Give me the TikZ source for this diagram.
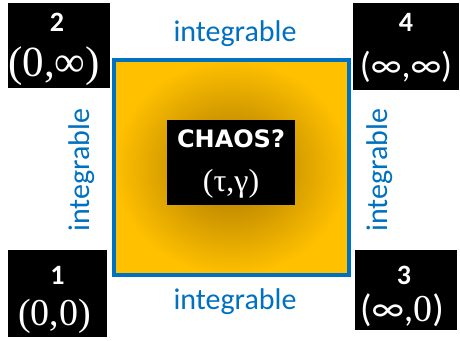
\documentclass[tikz,border=0pt]{standalone}
\usepackage{fontspec}
\setmainfont{Carlito}
\newfontfamily\serifnum{Liberation Serif}
\newfontfamily\chaosfont{DejaVu Sans}
\definecolor{ablue}{RGB}{0,112,192}
\definecolor{gold}{RGB}{255,192,0}
\definecolor{darkgold}{RGB}{165,115,0}
\begin{document}
\begin{tikzpicture}[x=1pt,y=1pt,
  blk/.style={fill=black,inner sep=0pt,anchor=center},
  wt/.style={text=white,inner sep=0pt,anchor=center},
  dig/.style={wt,font=\bfseries\fontsize{28}{30}\selectfont},
  lbl/.style={text=ablue,font=\fontsize{30}{34}\selectfont,inner sep=0pt}]
\useasboundingbox (0,0) rectangle (460,340);
% square
\shade[inner color=darkgold,outer color=gold] (114,65) rectangle (349,280);
\draw[ablue,line width=4.5pt] (114,65) rectangle (349,280) ;
% labels
\node[lbl] (lt) at (235,306) {integrable};
\node[lbl] (lb) at (235,38) {integrable};
\node[lbl,rotate=90] (ll) at (82,170) {integrable};
\node[lbl,rotate=90] (lr) at (380,170) {integrable};
% corner boxes
\node[blk,minimum width=102pt,minimum height=85pt] (b2) at (59,294.5) {};
\node[dig] (b2d) at ([yshift=23.5pt,xshift=-2pt]b2.center) {2};
\node[wt,font=\serifnum\fontsize{43}{45}\selectfont] (b2t) at ([yshift=-20.5pt,xshift=-5pt]b2.center) {(0,∞)};
\node[blk,minimum width=106pt,minimum height=87pt] (b4) at (406,293.5) {};
\node[dig] (b4d) at ([yshift=24.5pt]b4.center) {4};
\node[wt,font=\fontsize{36}{40}\selectfont] (b4t) at ([yshift=-20.5pt]b4.center) {(∞,∞)};
\node[blk,minimum width=99pt,minimum height=87pt] (b1) at (57.5,46.5) {};
\node[dig] (b1d) at ([yshift=18.5pt]b1.center) {1};
\node[wt,font=\serifnum\fontsize{38}{40}\selectfont] (b1t) at ([yshift=-22.5pt,xshift=-3pt]b1.center) {(0,0)};
\node[blk,minimum width=102pt,minimum height=80pt] (b3) at (406,50) {};
\node[dig] (b3d) at ([yshift=15pt,xshift=-2pt]b3.center) {3};
\node[wt,font=\fontsize{38}{40}\selectfont] (b3t) at ([yshift=-20pt,xshift=-4pt]b3.center) {(∞,{\serifnum 0})};
% center box
\node[blk,minimum width=128pt,minimum height=85pt] (c) at (231,177.5) {};
\node[wt,font=\chaosfont\bfseries\fontsize{24}{28}\selectfont] (ct) at ([yshift=23.5pt]c.center) {CHAOS?};
\node[wt,font=\serifnum\fontsize{32}{34}\selectfont] (cs) at ([yshift=-21.5pt]c.center) {(τ,γ)};
\end{tikzpicture}
\end{document}
